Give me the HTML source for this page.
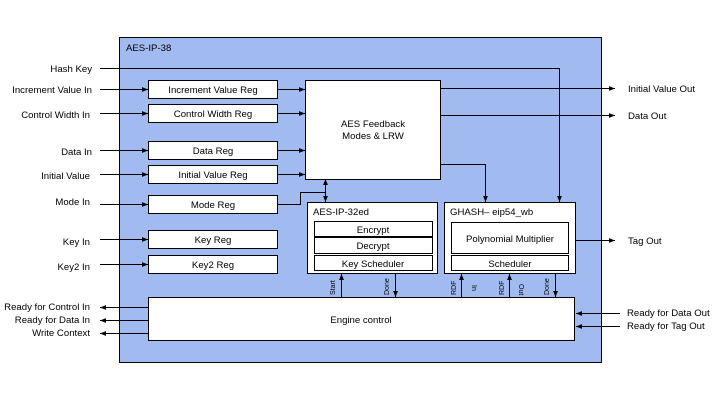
<!DOCTYPE html>
<html><head><style>body{margin:0;background:#fff}svg{display:block}text{font-family:"Liberation Sans",Arial,sans-serif;font-size:9.6px;fill:#000}</style></head><body>
<svg width="720" height="400" viewBox="0 0 720 400">
<defs><marker id="a" viewBox="0 0 10 10" refX="10" refY="5" markerWidth="6" markerHeight="6" orient="auto"><path d="M0,1L10,5L0,9z" fill="#000"/></marker></defs>
<rect x="119.5" y="37.5" width="482" height="325" fill="#a1bbf0" stroke="#000"/>
<text x="126" y="51">AES-IP-38</text>
<g fill="#fff" stroke="#000">
<rect x="148.5" y="80.5" width="129" height="18"/>
<rect x="148.5" y="104.5" width="129" height="18"/>
<rect x="148.5" y="141.5" width="129" height="18"/>
<rect x="148.5" y="165.5" width="129" height="18"/>
<rect x="148.5" y="195.5" width="129" height="18"/>
<rect x="148.5" y="230.5" width="129" height="18"/>
<rect x="148.5" y="255.5" width="129" height="18"/>
<rect x="305.5" y="80.5" width="135" height="99"/>
<rect x="307.5" y="202.5" width="130" height="71"/>
<rect x="314.5" y="221.5" width="118" height="15"/>
<rect x="314.5" y="237.5" width="118" height="16"/>
<rect x="314.5" y="255.5" width="118" height="15"/>
<rect x="444.5" y="202.5" width="131" height="71"/>
<rect x="451.5" y="222.5" width="117" height="31"/>
<rect x="451.5" y="255.5" width="117" height="15"/>
<rect x="148.5" y="297.5" width="426" height="43"/>
</g>
<g text-anchor="middle">
<text x="213" y="93">Increment Value Reg</text>
<text x="213" y="117">Control Width Reg</text>
<text x="213" y="154">Data Reg</text>
<text x="213" y="178">Initial Value Reg</text>
<text x="213" y="208">Mode Reg</text>
<text x="213" y="243">Key Reg</text>
<text x="213" y="268">Key2 Reg</text>
<text x="373" y="127">AES Feedback</text>
<text x="373" y="139">Modes &amp; LRW</text>
<text x="373" y="233">Encrypt</text>
<text x="373" y="249">Decrypt</text>
<text x="373" y="267">Key Scheduler</text>
<text x="510" y="242">Polynomial Multiplier</text>
<text x="510" y="267">Scheduler</text>
<text x="361" y="323">Engine control</text>
</g>
<text x="313" y="215">AES-IP-32ed</text>
<text x="450" y="215">GHASH– eip54_wb</text>
<g text-anchor="end">
<text x="92" y="72">Hash Key</text>
<text x="92" y="93">Increment Value In</text>
<text x="90" y="118">Control Width In</text>
<text x="92" y="155">Data In</text>
<text x="90" y="179">Initial Value</text>
<text x="90" y="205">Mode In</text>
<text x="90" y="245">Key In</text>
<text x="90" y="270">Key2 In</text>
<text x="90" y="310">Ready for Control In</text>
<text x="90" y="323">Ready for Data In</text>
<text x="90" y="336">Write Context</text>
</g>
<text x="628" y="92">Initial Value Out</text>
<text x="628" y="119">Data Out</text>
<text x="628" y="244">Tag Out</text>
<text x="627" y="316">Ready for Data Out</text>
<text x="627" y="329">Ready for Tag Out</text>
<g stroke="#000" fill="none">
<path d="M100,68.5H559.5V202" marker-end="url(#a)"/>
<path d="M100,89.5H148" marker-end="url(#a)"/>
<path d="M100,113.5H148" marker-end="url(#a)"/>
<path d="M100,150.5H148" marker-end="url(#a)"/>
<path d="M100,174.5H148" marker-end="url(#a)"/>
<path d="M100,204.5H148" marker-end="url(#a)"/>
<path d="M100,239.5H148" marker-end="url(#a)"/>
<path d="M100,264.5H148" marker-end="url(#a)"/>
<path d="M277,89.5H305" marker-end="url(#a)"/>
<path d="M277,113.5H305" marker-end="url(#a)"/>
<path d="M277,150.5H305" marker-end="url(#a)"/>
<path d="M277,174.5H305" marker-end="url(#a)"/>
<path d="M277,204.5H300.5V192.5H325.5"/>
<path d="M325.5,192V179" marker-end="url(#a)"/>
<path d="M325.5,192V202" marker-end="url(#a)"/>
<path d="M440,88.5H615" marker-end="url(#a)"/>
<path d="M440,115.5H615" marker-end="url(#a)"/>
<path d="M440,164.5H485.5V202" marker-end="url(#a)"/>
<path d="M575,240.5H615" marker-end="url(#a)"/>
<path d="M148,307.5H100" marker-end="url(#a)"/>
<path d="M148,320.5H100" marker-end="url(#a)"/>
<path d="M148,333.5H100" marker-end="url(#a)"/>
<path d="M620,313.5H576" marker-end="url(#a)"/>
<path d="M620,326.5H576" marker-end="url(#a)"/>
<path d="M341.5,297V274" marker-end="url(#a)"/>
<path d="M395.5,274V297" marker-end="url(#a)"/>
<path d="M461.5,297V274" marker-end="url(#a)"/>
<path d="M509.5,297V274" marker-end="url(#a)"/>
<path d="M555.5,274V297" marker-end="url(#a)"/>
</g>
<g>
<text transform="translate(335,295) rotate(-90)" style="font-size:7px">Start</text>
<text transform="translate(389,295) rotate(-90)" style="font-size:7px">Done</text>
<text transform="translate(456,295) rotate(-90)" style="font-size:7px">RDF</text>
<text transform="translate(472,285) rotate(90)" style="font-size:7px">In</text>
<text transform="translate(504,295) rotate(-90)" style="font-size:7px">RDF</text>
<text transform="translate(519,284) rotate(90)" style="font-size:7px">Out</text>
<text transform="translate(549,295) rotate(-90)" style="font-size:7px">Done</text>
</g>
</svg>
</body></html>
